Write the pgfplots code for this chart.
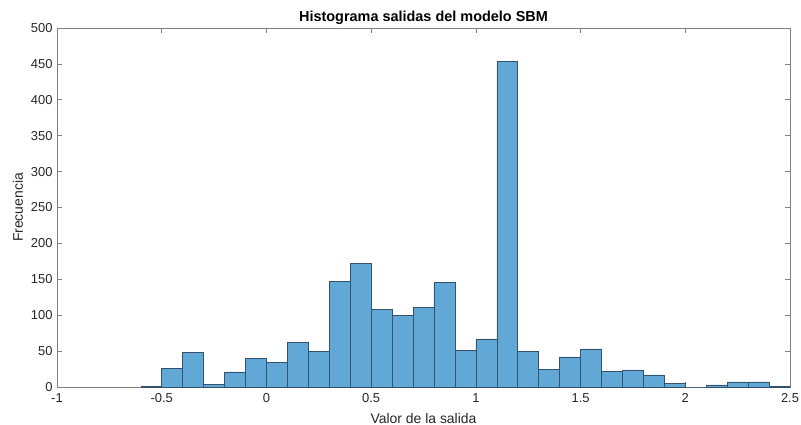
\documentclass[border=0pt]{standalone}
\usepackage{pgfplots}
\pgfplotsset{compat=1.18}
\usetikzlibrary{calc}
\usepackage{fontspec}
\setmainfont{Liberation Sans}
\definecolor{barfill}{RGB}{98,168,214}
\definecolor{baredge}{RGB}{52,82,108}
\definecolor{axcol}{RGB}{128,128,128}
\definecolor{txtcol}{RGB}{38,38,38}
\begin{document}
\begin{tikzpicture}
\begin{axis}[
  scale only axis,
  width=733bp, height=359bp,
  xmin=-1, xmax=2.5, ymin=0, ymax=500,
  xtick={-1,-0.5,0,0.5,1,1.5,2,2.5},
  xticklabels={-1,-0.5,0,0.5,1,1.5,2,2.5},
  ytick={0,50,...,500},
  yticklabels={0,50,100,150,200,250,300,350,400,450,500},
  tick align=inside,
  major tick length=5bp,
  axis line style={axcol, line width=0.6bp},
  every tick/.style={axcol, line width=0.6bp},
  tick label style={font=\fontsize{13}{15}\selectfont, text=txtcol},
  xticklabel style={yshift=-3bp},
  yticklabel style={xshift=-1bp},
  title={\textbf{Histograma salidas del modelo SBM}},
  title style={font=\fontsize{14.5}{16}\selectfont, text=black, yshift=-6bp},
  xlabel={Valor de la salida},
  ylabel={Frecuencia},
  label style={font=\fontsize{14}{16}\selectfont, text=txtcol},
  xlabel style={yshift=-4bp},
  ylabel style={yshift=1bp},
]
\addplot[ybar interval, fill=barfill, draw=baredge, line width=0.5bp] coordinates {
(-0.6,1) (-0.5,26) (-0.4,48) (-0.3,4) (-0.2,21) (-0.1,40) (0,34) (0.1,62) (0.2,50)
(0.3,147) (0.4,172) (0.5,108) (0.6,100) (0.7,111) (0.8,146) (0.9,51) (1.0,67)
(1.1,453) (1.2,50) (1.3,25) (1.4,42) (1.5,53) (1.6,22) (1.7,24) (1.8,17) (1.9,5)
(2.0,0) (2.1,3) (2.2,7) (2.3,7) (2.4,1) (2.5,1)
};
\end{axis}
\pgfresetboundingbox
\useasboundingbox ($(current axis.south west)+(-57bp,-38bp)$) rectangle ($(current axis.north east)+(11bp,28bp)$);
\end{tikzpicture}
\end{document}
